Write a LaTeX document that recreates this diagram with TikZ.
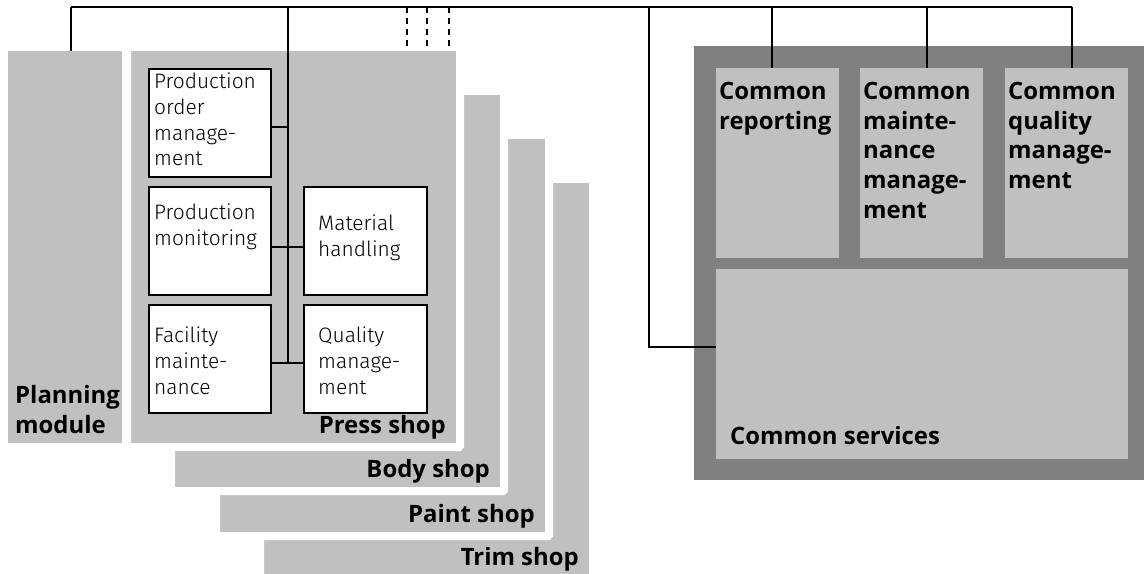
\documentclass[tikz,border=0pt]{standalone}
\usepackage{fontspec}
\setmainfont{Open Sans}
\newfontfamily\lightfont{Fira Sans Light}
\newfontfamily\heavyfont{Open Sans}[UprightFont={* Bold}]
\definecolor{panel}{RGB}{192,192,192}
\definecolor{framegray}{RGB}{128,128,128}
\newcommand{\firstlineplain}{\rule{0pt}{17bp}}
\newcommand{\firstlinebold}{\rule{0pt}{20bp}}
\begin{document}
\begin{tikzpicture}[x=1bp, y=-1bp,
  wire/.style={line width=2bp, black},
  dashwire/.style={wire, dash pattern=on 6bp off 5bp},
  panelbox/.style={fill=panel, inner sep=0, outer sep=0, anchor=north west},
  shopbox/.style={panelbox, draw=white, line width=8bp, rounded corners=1bp},
  framebox/.style={fill=framegray, inner sep=0, outer sep=0, anchor=north west},
  module/.style={fill=white, draw=black, line width=2bp, inner sep=0, outer sep=0, anchor=north west},
  plain/.style={font=\lightfont\fontsize{21}{26}\selectfont, anchor=north west, inner sep=0, align=left},
  heading/.style={font=\heavyfont\fontsize{24}{30}\selectfont, inner sep=0},
  headblock/.style={heading, anchor=north west, align=left},
]
\useasboundingbox (0,0) rectangle (1144,574);

% ---------- plant side: planning module and the stacked shops ----------
\node[panelbox, minimum width=114bp, minimum height=392bp] (planning) at (8,51) {};
\node[shopbox, minimum width=333bp, minimum height=401bp] (trim)  at (260,179) {};
\node[shopbox, minimum width=333bp, minimum height=401bp] (paint) at (216,135) {};
\node[shopbox, minimum width=333bp, minimum height=400bp] (body)  at (171,91) {};
\node[shopbox, minimum width=333bp, minimum height=400bp] (press) at (127,47) {};

\node[headblock] (planningtxt) at (15,383) {\firstlinebold Planning\\module};
\node[heading, anchor=base east] (presstxt) at (446,433) {Press shop};
\node[heading, anchor=base east] (bodytxt)  at (490,477) {Body shop};
\node[heading, anchor=base east] (painttxt) at (535,522) {Paint shop};
\node[heading, anchor=base east] (trimtxt)  at (579,565) {Trim shop};

% modules of the press shop
\node[module, minimum width=122.6bp, minimum height=108.3bp] (pom) at (148.7,68.7) {};
\node[module, minimum width=122.6bp, minimum height=108bp]   (pm)  at (148.7,187) {};
\node[module, minimum width=122.4bp, minimum height=108bp]   (mh)  at (304.3,187) {};
\node[module, minimum width=122.6bp, minimum height=108.6bp] (fm)  at (148.7,304.7) {};
\node[module, minimum width=122.4bp, minimum height=108.6bp] (qm)  at (304.3,304.7) {};

\node[plain] (pomtxt) at (154,71)  {\firstlineplain Production\\order\\manage-\\ment};
\node[plain] (pmtxt)  at (154,202) {\firstlineplain Production\\monitoring};
\node[plain] (mhtxt)  at (318,213) {\firstlineplain Material\\handling};
\node[plain] (fmtxt)  at (154,325) {\firstlineplain Facility\\mainte-\\nance};
\node[plain] (qmtxt)  at (318,325) {\firstlineplain Quality\\manage-\\ment};

% ---------- common services ----------
\node[framebox, minimum width=450bp, minimum height=434bp] (frame) at (694,46) {};
\node[panelbox, minimum width=123bp, minimum height=190bp] (reporting) at (716,68) {};
\node[panelbox, minimum width=123bp, minimum height=190bp] (maint)     at (860,68) {};
\node[panelbox, minimum width=123bp, minimum height=190bp] (quality)   at (1005,68) {};
\node[panelbox, minimum width=412bp, minimum height=190bp] (services)  at (716,269) {};

\node[headblock] (reportingtxt) at (719,79)  {\firstlinebold Common\\reporting};
\node[headblock] (mainttxt)     at (863,79)  {\firstlinebold Common\\mainte-\\nance\\manage-\\ment};
\node[headblock] (qualitytxt)   at (1008,79) {\firstlinebold Common\\quality\\manage-\\ment};
\node[heading, anchor=base west] (servicestxt) at (730,444) {Common services};

% ---------- connectors ----------
\coordinate (busW) at (71,7.5);
\coordinate (busE) at (1072,7.5);
\coordinate (pbus) at (287.5,7.5);
\coordinate (dA) at (406.7,7.5);
\coordinate (dB) at (426.7,7.5);
\coordinate (dC) at (449,7.5);
\coordinate (csbus) at (649,7.5);
\coordinate (repbus) at (772,7.5);
\coordinate (maintbus) at (927,7.5);
\coordinate (qualbus) at (1072,7.5);

\draw[wire] (busW) -- (busE);
\draw[wire] (busW) -- (busW |- planning.north);

\draw[wire] ([yshift=-3.9bp]pom.east) -- ([yshift=-3.9bp]pom.east -| pbus);
\draw[wire] ([yshift=-5.7bp]pm.east) -- ([yshift=-5.7bp]mh.west);
\draw[wire] ([yshift=-3.5bp]fm.east) coordinate (fmtie) -- ([yshift=-3.5bp]qm.west);
\draw[wire] (pbus) -- (pbus |- fmtie);

\draw[dashwire] (dA) -- (dA |- planning.north);
\draw[dashwire] (dB) -- (dB |- planning.north);
\draw[dashwire] (dC) -- (dC |- planning.north);

\draw[wire] (csbus) |- ([yshift=17bp]services.west);
\draw[wire] (repbus) -- (repbus |- reporting.north);
\draw[wire] (maintbus) -- (maintbus |- maint.north);
\draw[wire] (qualbus) -- (qualbus |- quality.north);
\end{tikzpicture}
\end{document}
